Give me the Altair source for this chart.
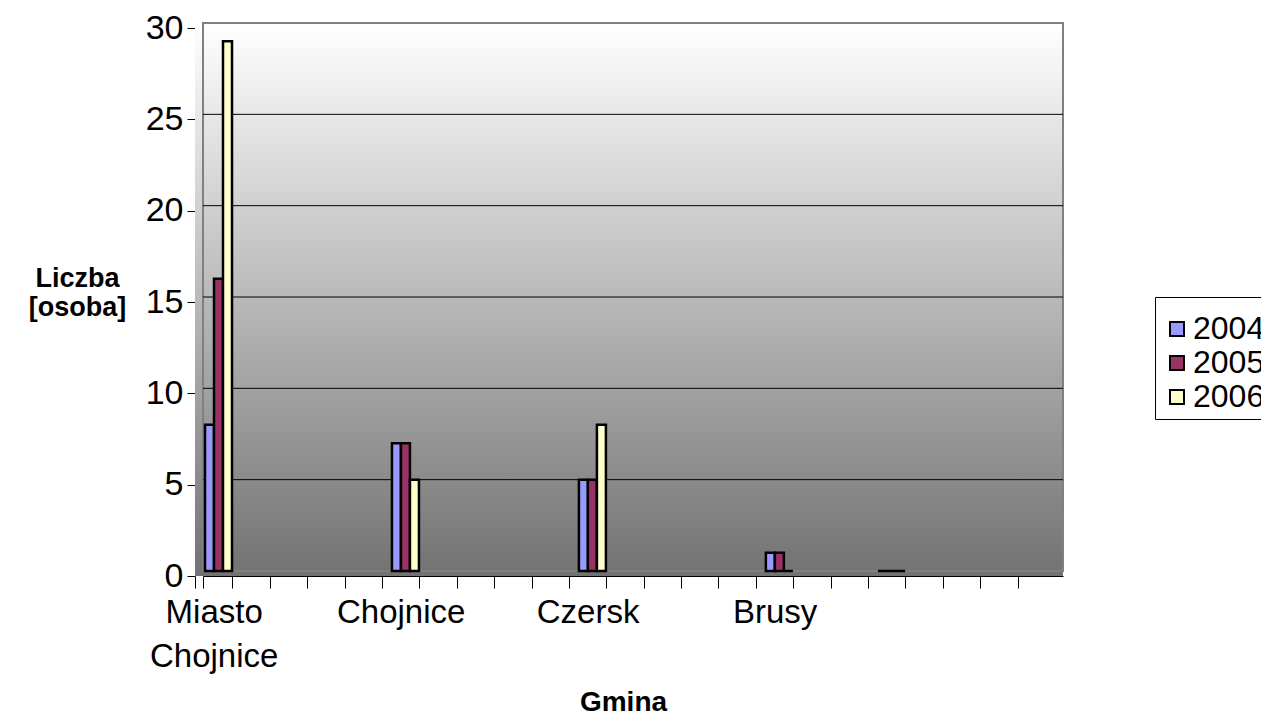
import altair as alt
import pandas as pd

# --- data ---
gminy = ["Miasto Chojnice", "", "", "", "", "Chojnice", "", "", "", "", "Czersk", "", "", "", "",
         "Brusy", "", "", "", "", "", "", ""]
lata = ["2004", "2005", "2006"]
N = None
w2004 = [8, N, N, N, N, 7, N, N, N, N, 5, N, N, N, N, 1, N, N, 0, N, N, N, N]
w2005 = [16, N, N, N, N, 7, N, N, N, N, 5, N, N, N, N, 1, N, N, 0, N, N, N, N]
w2006 = [29, N, N, N, N, 5, N, N, N, N, 8, N, N, N, N, 0, N, N, 0, N, N, N, N]
kolory = ["#9999FF", "#993366", "#FFFFCC"]
y_ticks = [0, 5, 10, 15, 20, 25, 30]

FONT = "Liberation Sans"
W, H = 860, 548

keys = [f"{i:02d}|{g}" for i, g in enumerate(gminy)]
rows = []
for rok, vals in zip(lata, [w2004, w2005, w2006]):
    for k, v in zip(keys, vals):
        if v is not None:
            rows.append({"kat": k, "rok": rok, "wartosc": v})
df = pd.DataFrame(rows)

yscale = alt.Scale(domain=[0, 30], nice=False, zero=True)
yaxis = alt.Axis(
    values=y_ticks, grid=False, offset=8, tickOffset=5, tickSize=8, tickColor="black",
    domainColor="black", labelFont=FONT, labelFontSize=34, labelColor="black", labelPadding=4,
    title=["Liczba", "[osoba]"], titleAngle=0, titleAlign="center", titleBaseline="top",
    titleX=-118, titleY=242, titleFont=FONT, titleFontSize=27, titleFontWeight="bold",
    titleColor="black", titleLineHeight=29,
)

grad = alt.LinearGradient(
    gradient="linear",
    stops=[alt.GradientStop(offset=0, color="#FFFFFF"),
           alt.GradientStop(offset=1, color="#727272")],
    x1=0, x2=0, y1=0, y2=1,
)

bg = alt.Chart(pd.DataFrame({"a": [0]})).mark_rect(fill=grad).encode(
    x=alt.value(-8), x2=alt.value(W), y=alt.value(0), y2=alt.value(H + 5))

wall = alt.Chart(pd.DataFrame({"a": [0]})).mark_rect(
    fill="transparent", stroke="#808080", strokeWidth=2).encode(
    x=alt.value(0), x2=alt.value(W), y=alt.value(0), y2=alt.value(H))

grid = alt.Chart(pd.DataFrame({"v": y_ticks[1:-1]})).mark_rule(color="black", strokeWidth=1).encode(
    y=alt.Y("v:Q", scale=yscale, axis=yaxis),
    x=alt.value(0), x2=alt.value(W),
)

bars = alt.Chart(df).mark_bar(stroke="black", strokeWidth=2.5).encode(
    x=alt.X("kat:N", sort=keys,
            scale=alt.Scale(domain=keys, paddingInner=0, paddingOuter=0),
            axis=alt.Axis(
                title="Gmina", labelAngle=0, offset=5, bandPosition=0, tickExtra=True,
                tickOffset=-8, labelOffset=0,
                tickSize=12, tickColor="black", domainColor="black",
                labelExpr="isValid(datum.value) ? split(split(datum.value, '|')[1], ' ') : ''",
                labelFont=FONT, labelFontSize=33, labelLineHeight=44, labelColor="black",
                labelPadding=8, labelLimit=400,
                titleFont=FONT, titleFontSize=28, titleFontWeight="bold", titleColor="black",
                titleX=420, titleY=134, titleBaseline="alphabetic",
            )),
    xOffset=alt.XOffset("rok:N", scale=alt.Scale(domain=lata, range=[2, 29], paddingInner=0, paddingOuter=0)),
    y=alt.Y("wartosc:Q", scale=yscale, axis=yaxis),
    color=alt.Color("rok:N", scale=alt.Scale(domain=lata, range=kolory),
                    legend=alt.Legend(
                        title=" ", titleFontSize=6, titlePadding=4,
                        orient="none", legendX=952, legendY=274,
                        symbolType="square", symbolSize=196, symbolStrokeColor="black",
                        symbolStrokeWidth=2, labelFont=FONT, labelFontSize=32, labelColor="black",
                        strokeColor="black", fillColor="white", padding=6, rowPadding=2,
                        labelOffset=0, offset=0,
                    )),
)

chart = alt.layer(bg, wall, grid, bars).properties(
    width=W, height=H,
    autosize=alt.AutoSizeParams(type="none"),
    padding={"left": 195, "top": 15, "right": 198, "bottom": 145},
).configure_view(stroke=None).configure(background="white")

chart.save("out.html", embed_options={"renderer": "svg", "actions": False})
